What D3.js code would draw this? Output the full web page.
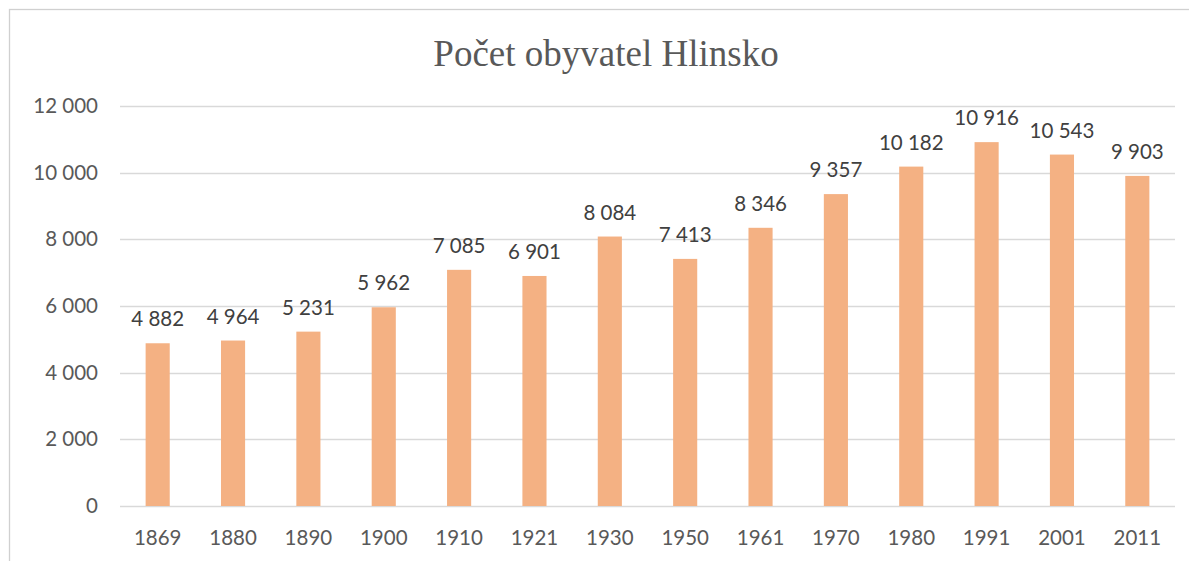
<!DOCTYPE html>
<html>
<head>
<meta charset="utf-8">
<script src="https://cdn.jsdelivr.net/npm/d3@7"></script>
<style>
  html, body { margin: 0; padding: 0; background: #fff; }
  svg { display: block; }
</style>
</head>
<body>
<svg id="chart" width="1189" height="561"></svg>
<script>
const title = "Počet obyvatel Hlinsko";
const years = ["1869", "1880", "1890", "1900", "1910", "1921", "1930", "1950", "1961", "1970", "1980", "1991", "2001", "2011"];
const population = [4882, 4964, 5231, 5962, 7085, 6901, 8084, 7413, 8346, 9357, 10182, 10916, 10543, 9903];
const yTicks = [0, 2000, 4000, 6000, 8000, 10000, 12000];

const W = 1189, H = 561;
const svg = d3.select("#chart");
const plotBottom = 506, plotTop = 106;
const labelFont = "Lato, 'Open Sans', sans-serif";

const fmt = v => d3.format(",")(v).replace(/,/g, " ");

// outer border
svg.append("rect")
  .attr("x", 9.5).attr("y", 9.5)
  .attr("width", W + 20).attr("height", H + 20)
  .attr("fill", "#fff")
  .attr("stroke", "#D0D0D0")
  .attr("stroke-width", 1.3);

const x = d3.scaleBand()
  .domain(years)
  .range([120, 1175])
  .paddingInner(0.68)
  .paddingOuter(0.34);

const y = d3.scaleLinear()
  .domain([0, 12000])
  .range([plotBottom, plotTop]);

// gridlines
svg.append("g")
  .selectAll("line")
  .data(yTicks)
  .join("line")
  .attr("x1", 120).attr("x2", 1175)
  .attr("y1", d => Math.round(y(d)) + 0.5)
  .attr("y2", d => Math.round(y(d)) + 0.5)
  .attr("stroke", "#D9D9D9")
  .attr("stroke-width", 1.5);

// y axis labels
const yAxis = d3.axisLeft(y).tickValues(yTicks).tickFormat(fmt).tickSize(0).tickPadding(0);
const gy = svg.append("g").attr("transform", "translate(98,0)").call(yAxis);
gy.select(".domain").remove();
gy.selectAll("text")
  .attr("fill", "#595959")
  .style("font-family", labelFont)
  .style("font-size", "20.5px");

// x axis labels
const xAxis = d3.axisBottom(x).tickSize(0).tickPadding(0);
const gx = svg.append("g").attr("transform", `translate(0,${plotBottom})`).call(xAxis);
gx.select(".domain").remove();
gx.selectAll("text")
  .attr("dy", null)
  .attr("y", 39)
  .attr("fill", "#595959")
  .style("font-family", labelFont)
  .style("font-size", "20.5px");

// bars
svg.append("g")
  .selectAll("rect")
  .data(years)
  .join("rect")
  .attr("x", (d) => x(d))
  .attr("width", x.bandwidth())
  .attr("y", (d, i) => y(population[i]))
  .attr("height", (d, i) => plotBottom - y(population[i]))
  .attr("fill", "#F4B183");

// data labels
svg.append("g")
  .selectAll("text")
  .data(years)
  .join("text")
  .attr("x", d => x(d) + x.bandwidth() / 2)
  .attr("y", (d, i) => y(population[i]) - 17)
  .attr("text-anchor", "middle")
  .attr("fill", "#404040")
  .style("font-family", labelFont)
  .style("font-size", "20.5px")
  .text((d, i) => fmt(population[i]));

// title
svg.append("text")
  .attr("x", 606)
  .attr("y", 66)
  .attr("text-anchor", "middle")
  .attr("fill", "#595959")
  .style("font-family", "'Liberation Serif', 'Times New Roman', serif")
  .style("font-size", "37px")
  .text(title);
</script>
</body>
</html>
